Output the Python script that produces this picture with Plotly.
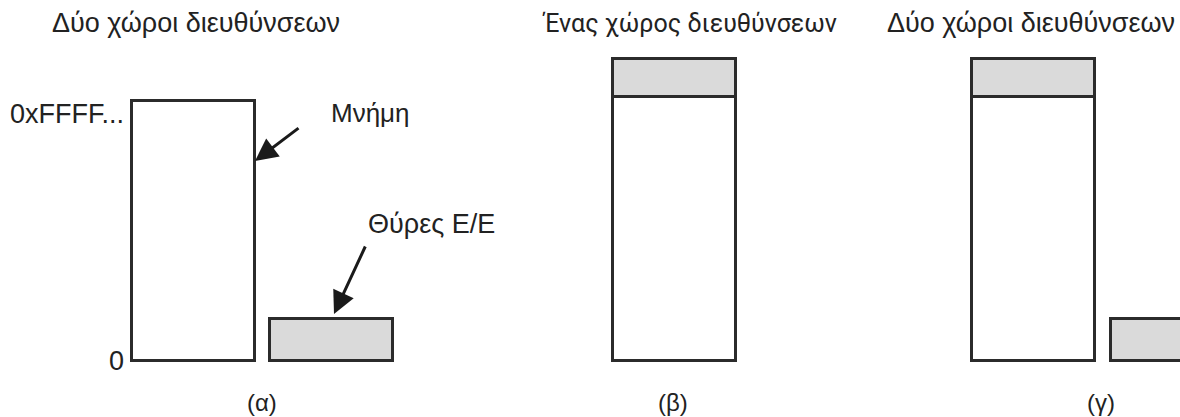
import plotly.graph_objects as go

# ---- data (address-space units: 0 = address 0, 1 = 0xFFFF...) ----
panel_labels = ["(α)", "(β)", "(γ)"]
panel_titles = ["Δύο χώροι διευθύνσεων", "Ένας χώρος διευθύνσεων", "Δύο χώροι διευθύνσεων"]
memory_bottom = [0.0, 0.0, 0.0]
memory_top = [1.0, 1.015, 1.015]
# I/O regions mapped into the memory address space (panels β, γ)
io_mapped_bottom = [1.015, 1.015]
io_mapped_top = [1.16, 1.16]
# separate I/O port spaces (panels α, γ)
io_port_bottom = [0.0, 0.0]
io_port_top = [0.16, 0.16]
tick_labels = ["0", "0xFFFF..."]
tick_values = [0.0, 1.0]
callout_texts = ["Μνήμη", "Θύρες Ε/Ε"]

# ---- layout constants ----
W, H = 1180, 417
PX = 260.0                      # pixels per address unit
YMIN = -(H - 361) / PX
YMAX = YMIN + H / PX
mem_x = [193.5, 674.5, 1033.0]
io_mapped_x = [674.5, 1033.0]
io_port_x = [331.5, 1172.5]
box_w = 123
EDGE = "#2b2b2b"
FILL_IO = "#dadada"
TXT = "#222222"
FONT = "Liberation Sans, Arial, sans-serif"
FONT2 = "Roboto, Liberation Sans, sans-serif"

def py(p):
    return (361 - p) / PX

def span(top, bottom):
    return [t - b for t, b in zip(top, bottom)]

fig = go.Figure()
fig.add_trace(go.Bar(
    x=mem_x, y=span(memory_top, memory_bottom), base=memory_bottom,
    width=box_w, marker=dict(color="white", line=dict(color=EDGE, width=3)),
    hoverinfo="skip", showlegend=False))
fig.add_trace(go.Bar(
    x=io_mapped_x, y=span(io_mapped_top, io_mapped_bottom), base=io_mapped_bottom,
    width=box_w, marker=dict(color=FILL_IO, line=dict(color=EDGE, width=3)),
    hoverinfo="skip", showlegend=False))
fig.add_trace(go.Bar(
    x=io_port_x, y=span(io_port_top, io_port_bottom), base=io_port_bottom,
    width=box_w, marker=dict(color=FILL_IO, line=dict(color=EDGE, width=3)),
    hoverinfo="skip", showlegend=False))

ann = []
title_x = [196, 689, 1031]
title_size = [27, 25, 27]
title_font = [FONT, FONT2, FONT]
for t, x, s, f in zip(panel_titles, title_x, title_size, title_font):
    ann.append(dict(x=x, y=py(23), text=t, showarrow=False, xanchor="center", yanchor="middle",
                    font=dict(size=s, color=TXT, family=f)))
label_x = [262, 673, 1101]
for t, x in zip(panel_labels, label_x):
    ann.append(dict(x=x, y=py(402), text=t, showarrow=False, xanchor="center", yanchor="middle",
                    font=dict(size=24, color=TXT, family=FONT)))
for t, v in zip(tick_labels, tick_values):
    ann.append(dict(x=126, y=v - 0.05 if v > 0.5 else v, text=t, showarrow=False,
                    xanchor="right", yanchor="middle",
                    font=dict(size=27, color=TXT, family=FONT)))
ann.append(dict(x=329, y=py(113), text=callout_texts[0], showarrow=False, xanchor="left",
                yanchor="middle", font=dict(size=26, color=TXT, family=FONT)))
ann.append(dict(x=366, y=py(224), text=callout_texts[1], showarrow=False, xanchor="left",
                yanchor="middle", font=dict(size=27, color=TXT, family=FONT)))
# arrows
ann.append(dict(x=255, y=py(161), ax=300, ay=py(127), axref="x", ayref="y", xref="x", yref="y",
                text="", showarrow=True, arrowhead=2, arrowsize=1.5, arrowwidth=3,
                arrowcolor="#1a1a1a", standoff=0))
ann.append(dict(x=334, y=py(314), ax=366, ay=py(245), axref="x", ayref="y", xref="x", yref="y",
                text="", showarrow=True, arrowhead=2, arrowsize=1.5, arrowwidth=3,
                arrowcolor="#1a1a1a", standoff=0))

fig.update_layout(
    width=W, height=H, margin=dict(l=0, r=0, t=0, b=0),
    paper_bgcolor="white", plot_bgcolor="white",
    barmode="overlay", bargap=0,
    xaxis=dict(range=[0, W], visible=False, fixedrange=True),
    yaxis=dict(range=[YMIN, YMAX], visible=False, fixedrange=True),
    annotations=ann, showlegend=False,
)
fig.write_html("out.html", config={"displayModeBar": False},
               post_script="document.body.style.margin='0';document.body.style.overflow='hidden';")
